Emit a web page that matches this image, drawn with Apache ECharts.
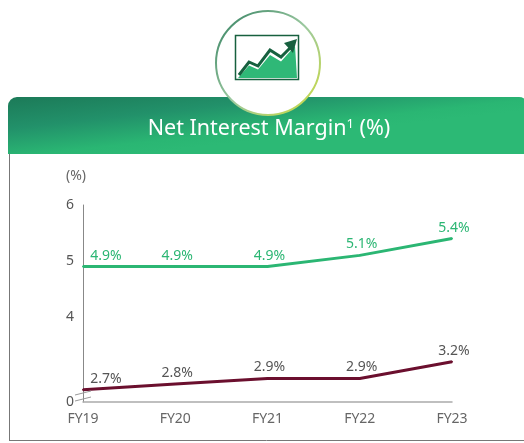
<!DOCTYPE html>
<html>
<head>
<meta charset="utf-8">
<style>html,body{margin:0;padding:0;background:#fff}#chart{width:524px;height:443px}</style>
<script src="https://cdn.jsdelivr.net/npm/echarts@6/dist/echarts.min.js"></script>
</head>
<body>
<div id="chart"></div>
<script>
var categories = ['FY19', 'FY20', 'FY21', 'FY22', 'FY23'];
var upperValues = [4.9, 4.9, 4.9, 5.1, 5.4];
var lowerValues = [2.7, 2.8, 2.9, 2.9, 3.2];
var axisTicks = [2.48, 4, 5, 6];   // the bottom of the broken axis is labelled 0
var fontName = 'Noto Sans';

var myChart = echarts.init(document.getElementById('chart'));

function labelled(values) {
	return values.map(function (v, i) {
		// first label sits to the right of the axis
		return i === 0 ? { value: v, label: { offset: [23, 0] } } : { value: v };
	});
}

var option = {
	animation: false,
	textStyle: { fontFamily: fontName },
	title: {
		text: 'Net Interest Margin{sup|1} (%)',
		left: 264, top: 113, textAlign: 'center',
		textStyle: {
			color: '#fff', fontSize: 21.5, fontWeight: 'normal', fontFamily: fontName,
			rich: { sup: { fontSize: 13, color: '#fff', verticalAlign: 'top', padding: [0, 0, 8, 0], fontFamily: fontName } }
		}
	},
	grid: { left: 83, right: 72, top: 205, bottom: 41 },
	xAxis: {
		type: 'category',
		boundaryGap: false,
		data: categories,
		axisLine: { lineStyle: { color: '#aaa', width: 1.5 } },
		axisTick: { show: false },
		axisLabel: { color: '#666', fontSize: 14, margin: 10 }
	},
	yAxis: {
		type: 'value',
		min: 2.48, max: 6,
		name: '(%)',
		nameLocation: 'end',
		nameGap: 22,
		nameTextStyle: { color: '#666', fontSize: 14, padding: [0, 14, 0, 0] },
		splitLine: { show: false },
		axisTick: { show: false },
		axisLine: { show: true, lineStyle: { color: '#888', width: 1 } },
		axisLabel: {
			color: '#555', fontSize: 14, margin: 9,
			customValues: axisTicks,
			formatter: function (v) { return v === axisTicks[0] ? '0' : String(v); }
		}
	},
	series: [{
		name: 'Upper',
		type: 'line',
		symbol: 'circle',
		symbolSize: 2,
		showSymbol: true,
		showAllSymbol: true,
		data: labelled(upperValues),
		lineStyle: { color: '#2bb673', width: 3 },
		itemStyle: { color: '#2bb673' },
		label: { show: true, position: 'top', distance: 3, offset: [2, 0], color: '#2bb673', fontSize: 14, formatter: '{c}%' }
	}, {
		name: 'Lower',
		type: 'line',
		symbol: 'circle',
		symbolSize: 2,
		showSymbol: true,
		showAllSymbol: true,
		data: labelled(lowerValues),
		lineStyle: { color: '#6b0f2e', width: 3 },
		itemStyle: { color: '#6b0f2e' },
		label: { show: true, position: 'top', distance: 3, offset: [2, 0], color: '#555', fontSize: 14, formatter: '{c}%' }
	}],
	graphic: [
		// panel outline
		{ type: 'line', z: 0, shape: { x1: 9.5, y1: 150, x2: 9.5, y2: 440 }, style: { stroke: '#777', lineWidth: 1 } },
		{ type: 'line', z: 0, shape: { x1: 9, y1: 440.5, x2: 524, y2: 440.5 }, style: { stroke: '#777', lineWidth: 1 } },
		// header band
		{
			type: 'rect', z: 1,
			shape: { x: 8, y: 97, width: 520, height: 57, r: [9, 9, 0, 0] },
			style: { fill: new echarts.graphic.LinearGradient(0, 0, 0.015, 1.23, [
				{ offset: 0, color: '#1c7a58' },
				{ offset: 0.45, color: '#22916a' },
				{ offset: 0.85, color: '#2ab673' },
				{ offset: 1, color: '#2cb975' }
			]) }
		},
		// badge
		{
			type: 'circle', z: 2,
			shape: { cx: 268, cy: 63, r: 52 },
			style: {
				fill: '#fff', lineWidth: 2,
				stroke: new echarts.graphic.LinearGradient(0, 0, 1, 1, [
					{ offset: 0, color: '#2e7d5e' },
					{ offset: 0.5, color: '#9cc9a0' },
					{ offset: 1, color: '#cfdc3a' }
				])
			}
		},
		{ type: 'rect', z: 3, shape: { x: 235.5, y: 35.5, width: 63, height: 44 }, style: { fill: '#fff', stroke: '#17603f', lineWidth: 1.5 } },
		{ type: 'polygon', z: 3, shape: { points: [[238, 78], [249, 65.5], [258, 69.5], [270, 55], [281, 61.5], [295, 46], [297, 78]] }, style: { fill: '#2fb877' } },
		{ type: 'polyline', z: 3, shape: { points: [[239, 75], [249, 62], [258, 66], [270, 50], [281, 57], [290, 48]] }, style: { fill: 'none', stroke: '#17603f', lineWidth: 3 } },
		{ type: 'polygon', z: 3, shape: { points: [[297, 39], [284, 43], [293, 53]] }, style: { fill: '#17603f' } },
		// axis break marks
		{ type: 'line', z: 4, shape: { x1: 75, y1: 395, x2: 91, y2: 391 }, style: { stroke: '#999', lineWidth: 1 } },
		{ type: 'line', z: 4, shape: { x1: 75, y1: 401, x2: 91, y2: 397 }, style: { stroke: '#999', lineWidth: 1 } }
	]
};

myChart.setOption(option);
window.addEventListener('resize', function () {
	myChart.resize();
});
</script>
</body>
</html>
